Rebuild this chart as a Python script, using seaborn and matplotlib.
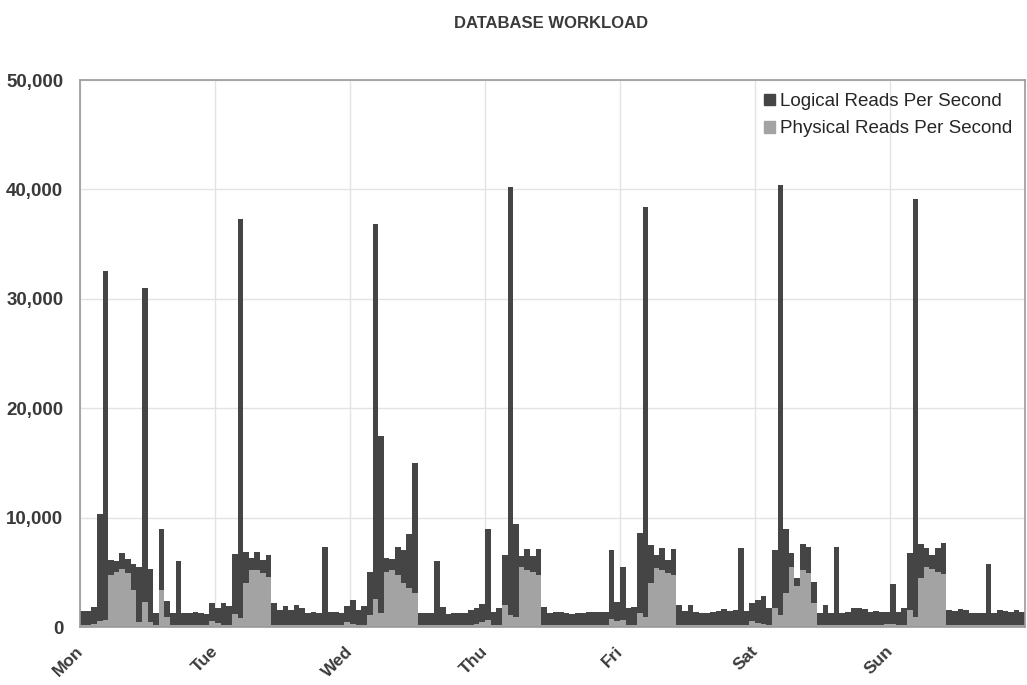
import numpy as np
import pandas as pd
import seaborn as sns
import matplotlib.pyplot as plt
import matplotlib.transforms as mtrans
from matplotlib.patches import Patch

days = ["Mon", "Tue", "Wed", "Thu", "Fri", "Sat", "Sun"]

# hourly values, 24 per day
logical_mon = [1500, 1500, 1850, 10300, 32500, 6100, 6000, 6800, 6200, 5800, 5500, 31000,
               5300, 1300, 9000, 2400, 1300, 6000, 1300, 1250, 1400, 1300, 1150, 2150]
logical_tue = [1700, 2150, 1900, 6700, 37300, 6900, 6300, 6900, 6100, 6600, 2200, 1550,
               1900, 1550, 2000, 1700, 1300, 1350, 1250, 7300, 1350, 1350, 1250, 1900]
logical_wed = [2450, 1550, 1900, 5050, 36800, 17500, 6350, 6200, 7350, 7050, 8500, 15000,
               1300, 1250, 1250, 6050, 1800, 1150, 1250, 1250, 1300, 1550, 1700, 2100]
logical_thu = [9000, 1400, 1700, 6600, 40200, 9400, 6450, 7100, 6500, 7150, 1800, 1300,
               1400, 1400, 1250, 1150, 1250, 1300, 1400, 1350, 1350, 1400, 7050, 2300]
logical_fri = [5500, 1700, 1850, 8550, 38400, 7500, 6600, 7250, 6100, 7100, 2000, 1500,
               2000, 1400, 1300, 1250, 1400, 1450, 1600, 1450, 1550, 7200, 1450, 2150]
logical_sat = [2500, 2850, 1700, 7000, 40400, 9000, 6800, 4500, 7550, 7350, 4150, 1300,
               2000, 1250, 7350, 1250, 1400, 1700, 1700, 1600, 1400, 1450, 1400, 1400]
logical_sun = [3900, 1400, 1700, 6800, 39100, 7550, 7250, 6600, 7250, 7650, 1550, 1450,
               1600, 1550, 1300, 1300, 1250, 5750, 1250, 1550, 1450, 1400, 1550, 1400]

physical_mon = [200, 200, 300, 550, 600, 4750, 5060, 5300, 4900, 3400, 500, 2300,
                500, 150, 3400, 950, 150, 150, 150, 150, 150, 150, 150, 550]
physical_tue = [400, 150, 150, 1150, 800, 4000, 5200, 5200, 4900, 4600, 150, 150,
                150, 150, 150, 150, 150, 150, 150, 150, 150, 150, 150, 500]
physical_wed = [300, 150, 150, 1100, 2600, 1250, 5050, 5200, 4750, 4000, 3550, 3100,
                150, 150, 150, 150, 150, 150, 150, 150, 150, 150, 300, 500]
physical_thu = [650, 150, 150, 2000, 1100, 950, 5450, 5200, 5000, 4750, 150, 150,
                150, 150, 150, 150, 150, 150, 150, 150, 150, 150, 700, 550]
physical_fri = [650, 150, 150, 1250, 950, 4000, 5350, 5200, 4900, 4750, 150, 150,
                150, 150, 150, 150, 150, 150, 150, 150, 150, 150, 150, 550]
physical_sat = [400, 300, 150, 1700, 1100, 3150, 5500, 3750, 5200, 4900, 2150, 150,
                150, 150, 150, 150, 150, 150, 150, 150, 150, 150, 150, 300]
physical_sun = [250, 150, 150, 1550, 950, 4450, 5450, 5300, 5000, 4850, 150, 150,
                150, 150, 150, 150, 150, 150, 150, 150, 150, 150, 150, 150]

logical = (logical_mon + logical_tue + logical_wed + logical_thu
           + logical_fri + logical_sat + logical_sun)
physical = (physical_mon + physical_tue + physical_wed + physical_thu
            + physical_fri + physical_sat + physical_sun)

df = pd.DataFrame({"hour": np.arange(len(logical)),
                   "logical": logical, "physical": physical})

sns.set_style("white")
plt.rcParams['font.family'] = ['Liberation Sans', 'DejaVu Sans']

dark = "#454545"
light = "#a3a3a3"
text_c = "#3a3a3a"

fig = plt.figure(figsize=(10.27, 6.85), dpi=100)
ax = fig.add_axes([80 / 1027, 1 - 627 / 685, 945 / 1027, 547 / 685])

sns.barplot(data=df, x="hour", y="logical", color=dark, width=1.0,
            saturation=1, linewidth=0, ax=ax)
sns.barplot(data=df, x="hour", y="physical", color=light, width=1.0,
            saturation=1, linewidth=0, ax=ax)

ax.set_xlim(-0.5, len(logical) - 0.5)
ax.set_ylim(0, 50000)
ax.set_yticks(np.arange(0, 50001, 10000))
ax.set_yticklabels([f"{v:,}" for v in range(0, 50001, 10000)],
                   fontsize=13.5, fontweight="bold", color=text_c)
ax.set_xticks(np.arange(7) * 24 - 0.5)
ax.set_xticklabels(days, rotation=45, ha="right", rotation_mode="anchor",
                   fontsize=12.5, fontweight="bold", color=text_c)
ax.tick_params(axis="y", length=0, pad=12)
ax.tick_params(axis="x", length=0, pad=12)
shift = mtrans.ScaledTranslation(-5 / 100, 0, fig.dpi_scale_trans)
for lbl in ax.get_xticklabels():
    lbl.set_transform(lbl.get_transform() + shift)
ax.set_xlabel("")
ax.set_ylabel("")

ax.grid(True, color="#e3e3e3", linewidth=1)
ax.set_axisbelow(True)
for s in ax.spines.values():
    s.set_color("#9a9a9a")
    s.set_linewidth(1.2)

handles = [Patch(color=dark, label="Logical Reads Per Second"),
           Patch(color=light, label="Physical Reads Per Second")]
ax.legend(handles=handles, loc="upper right", frameon=False, fontsize=13.5,
          handlelength=0.6, handleheight=0.6, handletextpad=0.25,
          labelspacing=0.55, borderaxespad=0.3)

fig.text(0.537, 0.965, "DATABASE WORKLOAD", ha="center", va="center",
         fontsize=12, fontweight="bold", color=text_c)

fig.savefig("out.png", dpi=100)
